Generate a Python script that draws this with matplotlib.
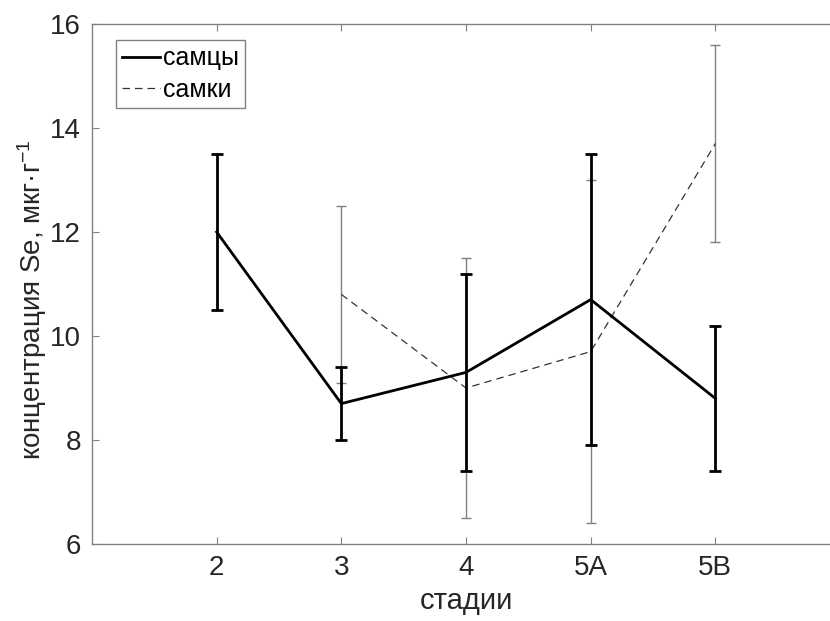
import matplotlib.pyplot as plt
from matplotlib.lines import Line2D
import numpy as np

plt.rcParams['font.family'] = ['Liberation Sans', 'DejaVu Sans']
plt.rcParams['mathtext.default'] = 'regular'

# стадии
stages = ['2', '3', '4', '5A', '5B']
pos = np.arange(1, 6)

# самцы
m_pos = [1, 2, 3, 4, 5]
m_mean = [12.0, 8.7, 9.3, 10.7, 8.8]
m_low = [10.5, 8.0, 7.4, 7.9, 7.4]
m_high = [13.5, 9.4, 11.2, 13.5, 10.2]

# самки
f_pos = [2, 3, 4, 5]
f_mean = [10.8, 9.0, 9.7, 13.7]
f_low = [9.1, 6.5, 6.4, 11.8]
f_high = [12.5, 11.5, 13.0, 15.6]

fig = plt.figure(figsize=(8.3, 6.21), dpi=100)
ax = fig.add_axes([92/830, 77/621, (840-92)/830, 520/621])

m_err = [np.array(m_mean) - np.array(m_low), np.array(m_high) - np.array(m_mean)]
f_err = [np.array(f_mean) - np.array(f_low), np.array(f_high) - np.array(f_mean)]

dash = (0, (6, 4))
ax.errorbar(f_pos, f_mean, yerr=f_err, color='#333333', ls=dash, lw=0.9,
            ecolor='#808080', elinewidth=1.0, capsize=3.5, capthick=1.0, zorder=2)
ax.errorbar(m_pos, m_mean, yerr=m_err, color='black', ls='-', lw=2.0,
            ecolor='black', elinewidth=2.0, capsize=4, capthick=2.0, zorder=3)

ax.set_xlim(0, 6)
ax.set_ylim(6, 16)
ax.set_xticks(pos)
ax.set_xticklabels(stages)
ax.set_yticks([6, 8, 10, 12, 14, 16])
ax.tick_params(direction='in', length=5, width=0.8, color='#808080', labelsize=20,
               top=True, right=False, labelcolor='#262626', pad=8)
for s in ax.spines.values():
    s.set_color('#808080')
    s.set_linewidth(1.0)
ax.spines['right'].set_visible(False)

ax.set_xlabel('стадии', fontsize=21, color='#262626', labelpad=4)
ax.set_ylabel('концентрация Se, мкг·г$^{-1}$', fontsize=20, color='#262626')
ax.yaxis.set_label_coords(-0.058, 0.47)

handles = [Line2D([], [], color='black', lw=2.0),
           Line2D([], [], color='#333333', lw=0.9, ls=dash)]
leg = ax.legend(handles, ['самцы', 'самки'], loc='upper left', bbox_to_anchor=(0.032, 0.969),
                fontsize=18, fancybox=False, framealpha=1, edgecolor='#808080',
                handlelength=1.5, handletextpad=0.12, borderpad=0.25, labelspacing=0.3,
                borderaxespad=0)
leg.get_frame().set_linewidth(1.0)

fig.savefig('out.png', dpi=100)
